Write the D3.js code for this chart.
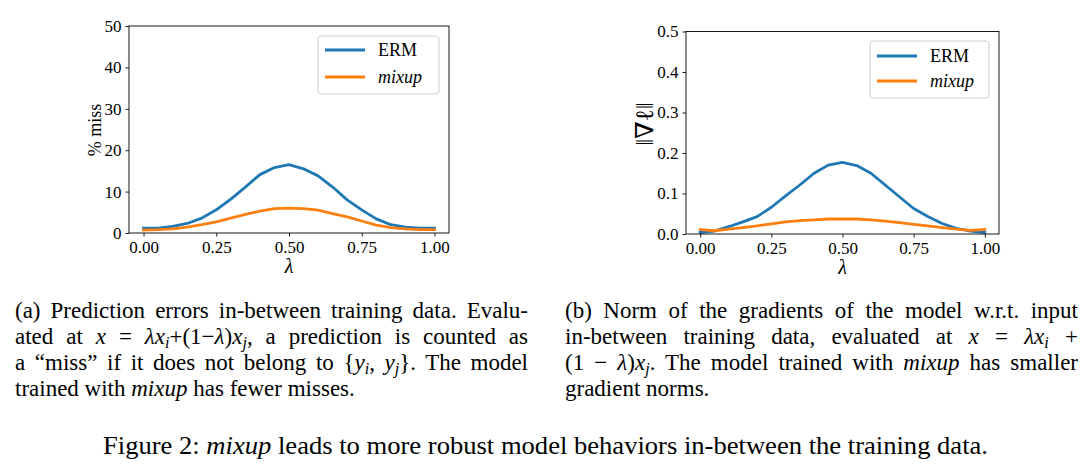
<!DOCTYPE html>
<html><head><meta charset="utf-8">
<script src="https://cdn.jsdelivr.net/npm/d3@7"></script>
<style>
body{margin:0;background:#fff;}
svg{display:block;}
text{font-family:"Liberation Serif","DejaVu Serif",serif;fill:#000;}
</style></head>
<body>
<svg id="fig" width="1092" height="473"></svg>
<script>
const lambdas = [0,0.05,0.1,0.15,0.2,0.25,0.3,0.35,0.4,0.45,0.5,0.55,0.6,0.65,0.7,0.75,0.8,0.85,0.9,0.95,1.0];
const ermMiss   = [1.2,1.2,1.6,2.3,3.6,5.6,8.2,11.1,14.1,15.8,16.5,15.5,13.8,11.1,8.0,5.6,3.4,2.0,1.4,1.2,1.2];
const mixupMiss = [0.7,0.8,1.0,1.4,2.0,2.7,3.6,4.5,5.3,5.9,6.0,5.9,5.5,4.7,3.9,2.9,1.9,1.3,1.0,0.8,0.8];
const ermGrad   = [0.004,0.007,0.018,0.030,0.043,0.066,0.094,0.121,0.150,0.170,0.177,0.169,0.150,0.121,0.092,0.063,0.043,0.026,0.014,0.007,0.004];
const mixupGrad = [0.011,0.008,0.012,0.016,0.020,0.025,0.030,0.033,0.035,0.037,0.037,0.037,0.035,0.032,0.028,0.024,0.020,0.016,0.012,0.009,0.011];
const xTicks = [0,0.25,0.5,0.75,1.0];
const missTicks = [0,10,20,30,40,50];
const gradTicks = [0,0.1,0.2,0.3,0.4,0.5];
const seriesNames = ["ERM","mixup"];
const colors = ["#1f77b4","#ff7f0e"];

const svg = d3.select("#fig");

function panel(o){
  const x = d3.scaleLinear().domain([-0.05,1.05]).range([o.l,o.r]);
  const y = d3.scaleLinear().domain(o.ydom).range([o.b,o.t]);
  const g = svg.append("g");
  const xa = g.append("g").attr("transform",`translate(0,${o.b})`)
    .call(d3.axisBottom(x).tickValues(xTicks).tickFormat(d3.format(".2f")).tickSize(3.5).tickPadding(4));
  const ya = g.append("g").attr("transform",`translate(${o.l},0)`)
    .call(d3.axisLeft(y).tickValues(o.yticks).tickFormat(o.yfmt).tickSize(3.5).tickPadding(4));
  [xa,ya].forEach(a=>{
    a.select(".domain").remove();
    a.selectAll(".tick line").attr("stroke","#000").attr("stroke-width",0.9);
    a.selectAll(".tick text").attr("font-size",17).attr("font-family","Liberation Serif, serif").attr("fill","#000");
  });
  const line = d3.line().x((d,i)=>x(lambdas[i])).y(d=>y(d));
  o.series.forEach((s,k)=>{
    g.append("path").datum(s).attr("d",line).attr("fill","none")
      .attr("stroke",colors[k]).attr("stroke-width",2.8).attr("stroke-linejoin","round").attr("stroke-linecap","square");
  });
  g.append("rect").attr("x",o.l).attr("y",o.t).attr("width",o.r-o.l).attr("height",o.b-o.t)
    .attr("fill","none").attr("stroke","#000").attr("stroke-width",0.9);
  // legend
  const L = o.leg;
  g.append("rect").attr("x",L.x).attr("y",L.y).attr("width",L.w).attr("height",L.h)
    .attr("rx",3).attr("fill","#fff").attr("fill-opacity",0.8).attr("stroke","#d0d0d0").attr("stroke-width",1);
  seriesNames.forEach((n,k)=>{
    const yy = L.y + L.r0 + k*L.dy;
    g.append("line").attr("x1",L.x+7).attr("x2",L.x+47).attr("y1",yy).attr("y2",yy)
      .attr("stroke",colors[k]).attr("stroke-width",2.8);
    g.append("text").attr("x",L.x+60).attr("y",yy+6).attr("font-size",18)
      .attr("font-style",k===1?"italic":"normal").text(n);
  });
  // axis labels
  g.append("text").attr("x",(o.l+o.r)/2).attr("y",o.b+40).attr("text-anchor","middle")
    .attr("font-size",20).attr("font-style","italic").text("λ");
  g.append("text").attr("transform",`translate(${o.ylx},${o.yly}) rotate(-90)`).attr("text-anchor","middle")
    .attr("font-size",o.ylfs).attr("font-family",o.ylff).text(o.ylab);
}

panel({l:129,r:449,t:26,b:233,ydom:[0,50],yticks:missTicks,yfmt:d3.format("d"),
  series:[ermMiss,mixupMiss],leg:{x:318,y:36,w:121,h:58,r0:14,dy:27},
  ylab:"% miss",ylx:101,yly:130,ylfs:18,ylff:"Liberation Serif, serif"});
panel({l:686,r:999,t:31.5,b:234,ydom:[0,0.5],yticks:gradTicks,yfmt:d3.format(".1f"),
  series:[ermGrad,mixupGrad],leg:{x:870,y:41,w:119,h:57,r0:15,dy:25},
  ylab:"‖∇ℓ‖",ylx:653,yly:124,ylfs:25,ylff:"DejaVu Serif, serif"});

// captions
function capLine(x,y,segs,width,fs){
  const t = svg.append("text").attr("x",x).attr("y",y).attr("font-size",fs);
  let prevSub=false;
  segs.forEach(([s,st])=>{
    const ts = t.append("tspan").text(s);
    if(st==="i"||st==="s") ts.attr("font-style","italic");
    if(st==="s"){ ts.attr("font-size",fs*0.7).attr("dy",4); prevSub=true; }
    else if(prevSub){ ts.attr("dy",-4); prevSub=false; }
  });
  if(width){
    const len = t.node().getComputedTextLength();
    const spaces = segs.map(s=>s[0]).join("").split(" ").length-1;
    if(spaces>0) t.style("word-spacing",((width-len)/spaces)+"px");
  }
  return t;
}
const FS=23, W=513;
const capA = [
  [[["(a) Prediction errors in-between training data. Evalu-","n"]],true],
  [[["ated at ","n"],["x","i"],[" = ","n"],["λx","i"],["i","s"],["+(1−","n"],["λ","i"],[")","n"],["x","i"],["j","s"],[", a prediction is counted as","n"]],true],
  [[["a “miss” if it does not belong to {","n"],["y","i"],["i","s"],[", ","n"],["y","i"],["j","s"],["}. The model","n"]],true],
  [[["trained with ","n"],["mixup","i"],[" has fewer misses.","n"]],false]
];
const capB = [
  [[["(b) Norm of the gradients of the model w.r.t. input","n"]],true],
  [[["in-between training data, evaluated at ","n"],["x","i"],[" = ","n"],["λx","i"],["i","s"],[" +","n"]],true],
  [[["(1 − ","n"],["λ","i"],[")","n"],["x","i"],["j","s"],[". The model trained with ","n"],["mixup","i"],[" has smaller","n"]],true],
  [[["gradient norms.","n"]],false]
];
const baselines=[318,344,370,396];
capA.forEach((l,i)=>capLine(15,baselines[i],l[0],l[1]?W:0,FS));
capB.forEach((l,i)=>capLine(565,baselines[i],l[0],l[1]?W:0,FS));
const fc = capLine(103,454,[["Figure 2: ","n"],["mixup","i"],[" leads to more robust model behaviors in-between the training data.","n"]],0,26);
fc.attr("textLength",885).attr("lengthAdjust","spacingAndGlyphs");
</script>
</body></html>
